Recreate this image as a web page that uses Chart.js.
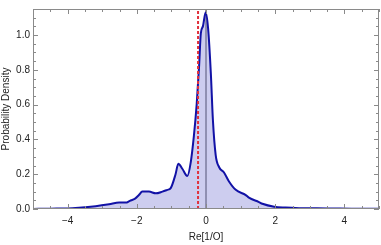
<!DOCTYPE html>
<html>
<head>
<meta charset="utf-8">
<script src="https://cdn.jsdelivr.net/npm/chart.js@4.4.1/dist/chart.umd.min.js"></script>
<style>
  html, body { margin: 0; padding: 0; background: #fff; }
  #wrap { width: 381px; height: 245px; }
</style>
</head>
<body>
<div id="wrap"><canvas id="chart"></canvas></div>
<script>
// density curve
const densityX = [-5, -4.5, -4.0, -3.67, -3.19, -2.8, -2.51, -2.32, -2.2, -2.05, -1.94, -1.84, -1.65, -1.45, -1.26, -1.12, -1.02, -0.88, -0.80, -0.68, -0.54, -0.44, -0.35, -0.27, -0.20, -0.15, -0.09, -0.01, 0.06, 0.14, 0.20, 0.28, 0.38, 0.52, 0.66, 0.86, 1.15, 1.24, 1.53, 1.63, 1.97, 2.3, 2.69, 3.2, 3.7, 4.2, 5.0];
const densityY = [0.0, 0.002, 0.003, 0.007, 0.016, 0.027, 0.037, 0.037, 0.047, 0.06, 0.08, 0.10, 0.10, 0.09, 0.10, 0.11, 0.12, 0.20, 0.26, 0.23, 0.19, 0.27, 0.42, 0.60, 0.82, 1.01, 1.05, 1.13, 1.04, 0.78, 0.51, 0.31, 0.24, 0.21, 0.16, 0.11, 0.08, 0.065, 0.04, 0.03, 0.013, 0.008, 0.005, 0.004, 0.003, 0.002, 0.002];

const markerX = -0.23;   // red dashed line
const zeroX = 0;
const xRange = [-5, 5];
const yRange = [0, 1.15];
const xTicks = [-4, -2, 0, 2, 4];
const yTicks = [0, 0.2, 0.4, 0.6, 0.8, 1.0];
const xMinorStep = 0.5;
const yMinorStep = 0.05;

const font = { family: "'Liberation Sans', Arial, sans-serif", size: 10 };
const frameColor = '#8a8a8a';

// Mathematica style frame with inward ticks on all four sides
const frameTicks = {
  id: 'frameTicks',
  afterDatasetsDraw(chart) {
    const { ctx, chartArea: a, scales: { x, y } } = chart;
    ctx.save();
    ctx.strokeStyle = frameColor;
    ctx.lineWidth = 1;
    ctx.beginPath();
    for (let v = xRange[0]; v <= xRange[1] + 1e-9; v += xMinorStep) {
      const px = Math.round(x.getPixelForValue(v)) + 0.5;
      const len = xTicks.some(t => Math.abs(t - v) < 1e-9) ? 5 : 3;
      ctx.moveTo(px, a.bottom); ctx.lineTo(px, a.bottom - len);
      ctx.moveTo(px, a.top); ctx.lineTo(px, a.top + len);
    }
    for (let v = yRange[0]; v <= yRange[1] + 1e-9; v += yMinorStep) {
      const py = Math.round(y.getPixelForValue(v)) + 0.5;
      const len = yTicks.some(t => Math.abs(t - v) < 1e-9) ? 5 : 3;
      ctx.moveTo(a.left, py); ctx.lineTo(a.left + len, py);
      ctx.moveTo(a.right, py); ctx.lineTo(a.right - len, py);
    }
    ctx.stroke();
    ctx.strokeRect(Math.round(a.left) + 0.5, Math.round(a.top) + 0.5,
      Math.round(a.right - a.left) - 1, Math.round(a.bottom - a.top) - 1);
    ctx.restore();
  }
};

new Chart(document.getElementById('chart'), {
  type: 'line',
  data: {
    datasets: [
      {
        // thin black line at zero
        data: [{ x: zeroX, y: yRange[0] }, { x: zeroX, y: yRange[1] }],
        borderColor: '#333',
        borderWidth: 1,
        pointRadius: 0,
        fill: false,
        order: 3
      },
      {
        data: densityX.map((v, i) => ({ x: v, y: densityY[i] })),
        borderColor: '#1212a6',
        borderWidth: 2,
        backgroundColor: 'rgba(130,130,215,0.4)',
        fill: 'origin',
        pointRadius: 0,
        cubicInterpolationMode: 'monotone',
        order: 2
      },
      {
        data: [{ x: markerX, y: yRange[0] }, { x: markerX, y: yRange[1] }],
        borderColor: '#e0303c',
        borderWidth: 2,
        borderDash: [3, 2],
        pointRadius: 0,
        fill: false,
        order: 1
      }
    ]
  },
  options: {
    responsive: true,
    maintainAspectRatio: false,
    animation: false,
    layout: { padding: { top: 0, right: 2, left: 0, bottom: 0 } },
    plugins: { legend: { display: false }, tooltip: { enabled: false } },
    scales: {
      x: {
        type: 'linear',
        min: xRange[0],
        max: xRange[1],
        afterBuildTicks: s => { s.ticks = xTicks.map(v => ({ value: v })); },
        afterFit: s => { s.height = 36; },
        grid: { display: false, drawTicks: false },
        border: { display: false },
        ticks: {
          font, color: '#222', padding: 6, maxRotation: 0,
          callback: v => (v < 0 ? '\u2212' + Math.abs(v) : String(v))
        },
        title: { display: true, text: 'Re[1/O]', font, color: '#222', padding: { top: 0, bottom: 2 } }
      },
      y: {
        min: yRange[0],
        max: yRange[1],
        afterBuildTicks: s => { s.ticks = yTicks.map(v => ({ value: v })); },
        afterFit: s => { s.width = 33; },
        grid: { display: false, drawTicks: false },
        border: { display: false },
        ticks: { font, color: '#222', padding: 3, callback: v => v.toFixed(1) },
        title: { display: true, text: 'Probability Density', font, color: '#222', padding: { top: 0, bottom: 0 } }
      }
    }
  },
  plugins: [frameTicks]
});
</script>
</body>
</html>
